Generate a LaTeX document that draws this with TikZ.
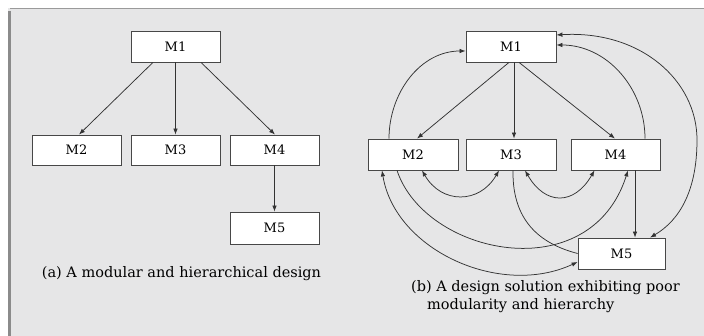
\documentclass[tikz,border=0pt]{standalone}
\usepackage{fontspec}
\setmainfont{DejaVu Serif}
\usetikzlibrary{arrows.meta}
\definecolor{panel}{HTML}{E6E6E7}
\definecolor{frameline}{HTML}{9A9A9A}
\definecolor{ink}{HTML}{333333}
\begin{document}
\begin{tikzpicture}[x=1pt,y=-1pt,
  box/.style={draw=ink!90, line width=0.8pt, fill=white, inner sep=0pt,
    minimum width=89pt, minimum height=31pt, font=\fontsize{13}{15}\selectfont},
  conn/.style={draw=ink, line width=0.75pt},
  arr/.style={conn, -{Latex[length=6pt,width=4.5pt]}},
  darr/.style={conn, {Latex[length=6pt,width=4.5pt]}-{Latex[length=6pt,width=4.5pt]}},
  captext/.style={font=\fontsize{14.5}{17}\selectfont, inner sep=0pt}]
\useasboundingbox (0,0) rectangle (704,336);
\fill[white] (0,0) rectangle (704,336);
\fill[panel] (8,8) rectangle (704,336);
\draw[frameline, line width=1.5pt] (10,8.5) -- (704,8.5);
\draw[frameline!90!black, line width=3pt] (9,11) -- (9,336);
% left panel
\node[box] (M1a) at (175.5,46.5) {M1};
\node[box, minimum height=30pt] (M2a) at (76.5,150) {M2};
\node[box, minimum height=30pt] (M3a) at (175.5,150) {M3};
\node[box, minimum height=30pt] (M4a) at (274.5,150) {M4};
\node[box, minimum height=32pt] (M5a) at (274.5,228) {M5};
\draw[arr] ([xshift=-22.5pt]M1a.south) -- ([xshift=2.5pt]M2a.north);
\draw[arr] (M1a.south) -- (M3a.north);
\draw[arr] ([xshift=25.5pt]M1a.south) -- ([xshift=0.5pt]M4a.north);
\draw[arr] (M4a.south) -- (M5a.north);
\node[captext] (capa) at (181.5,274) {(a) A modular and hierarchical design};
% right panel
\node[box, minimum width=90pt] (M1b) at (511,46.5) {M1};
\node[box, minimum width=90pt] (M2b) at (413,154.5) {M2};
\node[box, minimum width=90pt] (M3b) at (511,154.5) {M3};
\node[box] (M4b) at (615.5,154.5) {M4};
\node[box, minimum width=87pt] (M5b) at (621.5,253.5) {M5};
\draw[arr] ([xshift=-2pt]M1b.south) -- ([xshift=4pt]M2b.north);
\draw[arr] ([xshift=3pt]M1b.south) -- ([xshift=3pt]M3b.north);
\draw[arr] ([xshift=8pt]M1b.south) -- ([xshift=-0.5pt]M4b.north);
\draw[arr] ([xshift=-24pt]M2b.north) to[out=90,in=180] ([yshift=-4.5pt]M1b.west);
\draw[arr] ([xshift=29.5pt]M4b.north) to[out=90,in=0] ([yshift=1.5pt]M1b.east);
\draw[darr] ([yshift=11.5pt]M1b.east) .. controls (640,30) and (697,80) .. (697,140)
   .. controls (697,190) and (680,220) .. ([xshift=28.5pt]M5b.north);
\draw[darr] ([xshift=9pt]M2b.south) to[out=-60,in=-120,looseness=1.3] ([xshift=-12pt]M3b.south);
\draw[darr] ([xshift=-21pt]M4b.south) to[out=-120,in=-60,looseness=1.5] ([xshift=14pt]M3b.south);
\draw[arr] ([xshift=-16pt]M2b.south) .. controls (425,255) and (590,290) .. ([xshift=12.5pt]M4b.south);
\draw[conn] ([xshift=2pt]M3b.south) .. controls (512,225) and (545,245) .. (M5b.west);
\draw[darr] ([xshift=-31pt]M2b.south) .. controls (395,250) and (500,298) .. ([yshift=-8.5pt]M5b.west);
\draw[arr] ([xshift=19.5pt]M4b.south) -- ([xshift=13.5pt]M5b.north);
\node[captext] (capb1) at (545.5,288) {(b) A design solution exhibiting poor};
\node[captext, anchor=west] (capb2) at (427,306) {modularity and hierarchy};
\end{tikzpicture}
\end{document}
